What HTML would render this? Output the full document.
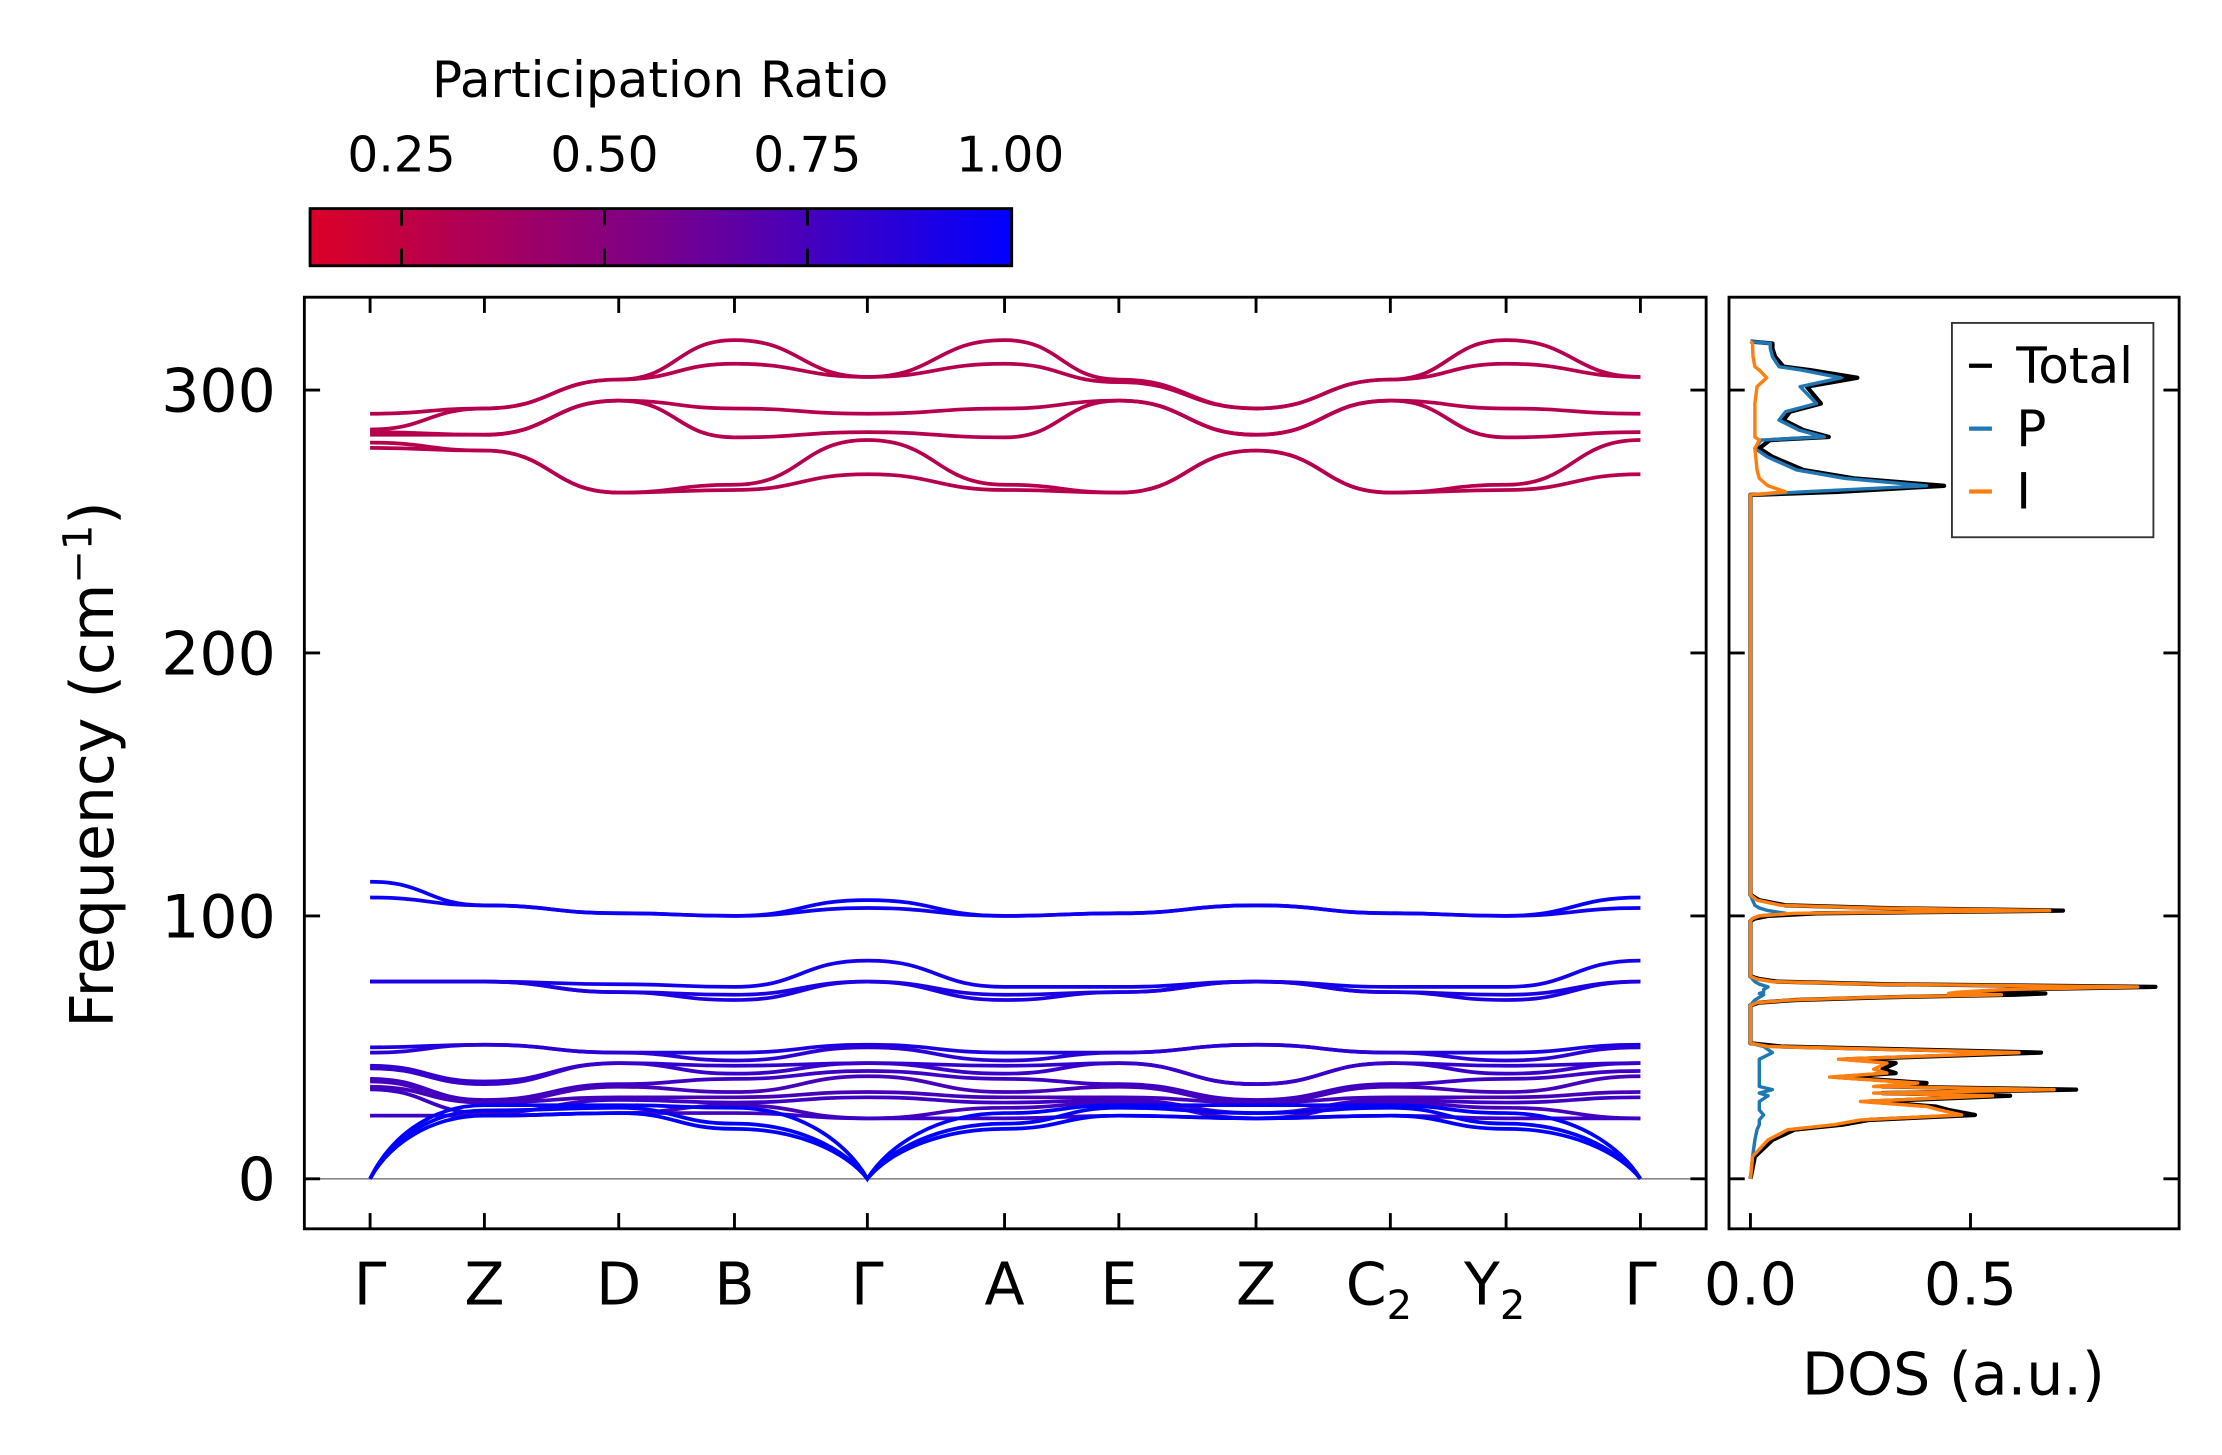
<!DOCTYPE html>
<html><head><meta charset="utf-8">
<style>
html,body{margin:0;padding:0;background:#fff;}
svg{display:block;font-family:"DejaVu Sans","Liberation Sans",sans-serif;}
</style></head>
<body>
<svg id="fig" width="2222" height="1455" viewBox="0 0 1555 1018.3" preserveAspectRatio="none" xmlns="http://www.w3.org/2000/svg">
<defs>
<linearGradient id="cmap" x1="0" x2="1" y1="0" y2="0">
<stop offset="0" stop-color="rgb(220,0,40)"/>
<stop offset="0.5" stop-color="rgb(120,0,140)"/>
<stop offset="1" stop-color="rgb(0,0,255)"/>
</linearGradient>
<clipPath id="mainclip"><rect x="213" y="208" width="981" height="652"/></clipPath>
<clipPath id="dosclip"><rect x="1210" y="208" width="315" height="652"/></clipPath>
</defs>
<g id="colorbar">
<text x="462" y="68" font-size="35" text-anchor="middle">Participation Ratio</text>
<rect x="217" y="146" width="491" height="40" fill="url(#cmap)" stroke="#000" stroke-width="2"/>
</g>
<g id="bands" clip-path="url(#mainclip)"></g>
<g id="dos" clip-path="url(#dosclip)"></g>
<g id="axes"></g>
<g id="legend">
<rect x="1366" y="226" width="141" height="150" fill="#fff" stroke="#333" stroke-width="1.3"/>
<line x1="1378" y1="256" x2="1394" y2="256" stroke="#000" stroke-width="3"/>
<text x="1411" y="268" font-size="35">Total</text>
<line x1="1378" y1="300" x2="1394" y2="300" stroke="#1f77b4" stroke-width="3"/>
<text x="1411" y="312" font-size="35">P</text>
<line x1="1378" y1="344" x2="1394" y2="344" stroke="#ff7f0e" stroke-width="3"/>
<text x="1411" y="356" font-size="35">I</text>
</g>
<text transform="translate(79,535) rotate(-90)" font-size="42" text-anchor="middle">Frequency (cm<tspan dy="-15" font-size="28">−1</tspan><tspan dy="15">)</tspan></text>
<text x="1367" y="976" font-size="41" text-anchor="middle">DOS (a.u.)</text>
</svg>
<script>
// ---- data ----
const kLabels = ["Γ","Z","D","B","Γ","A","E","Z","C","Y","Γ"];
const kSubs = ["","","","","","","","","2","2",""];
const kPath = [0,0.8,1.74,2.55,3.48,4.44,5.24,6.2,7.14,7.95,8.89];
const freqTicks = [0,100,200,300];
const cbTicks = [0.25,0.5,0.75,1.0];
const cbTickLabels = ["0.25","0.50","0.75","1.00"];
const dosTicks = [0.0,0.5];
const dosTickLabels = ["0.0","0.5"];

const bandHigh = [
[291,293,304,319,305,319,304,293,304,319,305],
[285,293,304,310,305,310,303,293,304,310,305],
[284,283,296,293,291,293,296,283,296,293,291],
[283,283,296,282,284,282,296,283,296,282,284],
[280,277,261,264,281,264,261,277,261,264,281],
[278,277,261,262,268,262,261,277,261,262,268]];
const prHigh = [0.3,0.3,0.3,0.3,0.3,0.3];
const bandMid = [
[113,104,101,100,106,100,101,104,101,100,107],
[107,104,101,100,103,100,101,104,101,100,103],
[75,75,74,73,83,73,73,75,73,73,83],
[75,75,71,70,75,70,71,75,71,70,75],
[75,75,71,68,75,68,71,75,71,68,75]];
const prMid = [0.97,0.95,0.93,0.9,0.9];
const bandLow = [
[50,51,48,48,51,48,48,51,48,48,51],
[48,51,48,45,50,45,48,51,48,45,50],
[43,37,44,43,44,43,44,36,44,43,44],
[42,36,44,40,44,40,44,36,44,40,44],
[38,30,36,38,41,38,36,30,36,38,41],
[37,29,35,33,39,33,35,29,35,33,39],
[35,29,31,31,33,31,31,29,31,31,33],
[34,25,30,29,31,29,30,25,30,29,31],
[24,24,25,28,23,27,29,23,29,27,23],
[24,24,25,25,23,23,24,23,24,23,23]];
const prLow = [0.9,0.85,0.82,0.8,0.78,0.75,0.75,0.78,0.75,0.78];
const bandAcoustic = [
[0,24,25,19,0,19,24,23,24,19,0],
[0,26,27,21,0,21,27,25,27,21,0],
[0,28,28,27,0,25,28,28,28,25,0]];
const prAcoustic = [1.0,1.0,1.0];

const dosFreq = [0,8.5,14.8,18.7,20.6,22.4,24.3,26.2,27.5,29.4,31.6,32.6,33.9,35.1,36.4,38.7,40.2,41.7,44,45.5,48,50.3,51.6,
66,67,68,69,70,70.5,71,72,73,74,75,76,77,
98,99,100,101,102,103,104,106,108,
259,260.1,261.3,263.6,266.4,269.6,274.6,277.8,281,282.2,284.8,288.6,291.8,294.9,301.3,304.7,307.6,308.9,312.7,315.8,317.7,318.5];
const dosTotal = [0,0.01,0.05,0.1,0.21,0.27,0.51,0.45,0.42,0.27,0.59,0.3,0.74,0.3,0.4,0.2,0.33,0.3,0.33,0.22,0.66,0.07,0,
0,0.02,0.1,0.3,0.6,0.67,0.5,0.6,0.92,0.3,0.06,0.02,0,
0,0.01,0.04,0.15,0.71,0.3,0.08,0.02,0,
0,0,0.2,0.44,0.235,0.12,0.05,0.02,0.044,0.178,0.12,0.075,0.09,0.16,0.128,0.243,0.136,0.075,0.056,0.05,0.05,0];
const dosP = [0,0.005,0.01,0.015,0.02,0.02,0.03,0.02,0.02,0.02,0.04,0.02,0.05,0.02,0.02,0.02,0.02,0.02,0.02,0.02,0.05,0.03,0,
0,0.005,0.01,0.02,0.03,0.02,0.03,0.03,0.04,0.02,0.01,0.005,0,
0,0.005,0.02,0.08,0.04,0.02,0.01,0.005,0,
0,0,0.12,0.4,0.215,0.105,0.038,0.01,0.024,0.168,0.11,0.065,0.08,0.15,0.113,0.206,0.116,0.065,0.05,0.045,0.045,0];
const dosI = [0,0.005,0.04,0.085,0.19,0.25,0.48,0.43,0.4,0.25,0.55,0.28,0.69,0.28,0.38,0.18,0.31,0.28,0.31,0.2,0.61,0.04,0,
0,0.015,0.09,0.28,0.57,0.45,0.47,0.58,0.88,0.28,0.05,0.015,0,
0,0.005,0.02,0.1,0.68,0.28,0.07,0.015,0,
0,0,0.08,0.04,0.02,0.015,0.012,0.01,0.02,0.01,0.01,0.01,0.01,0.01,0.015,0.037,0.02,0.01,0.006,0.005,0.005,0];

// ---- scales ----
const NS = "http://www.w3.org/2000/svg";
const X0 = 259, X1 = 1148;
const xK = k => X0 + (k - kPath[0]) / (kPath[kPath.length-1] - kPath[0]) * (X1 - X0);
const yF = f => 825 - f * 1.84;
const xD = d => 1225 + d * 308;
const xCB = v => 281 + (v - 0.25) / 0.25 * 142;
function prColor(p){
  const t = Math.max(0, Math.min(1, (p - 0.137) / (1 - 0.137)));
  let r,g,b;
  if (t < 0.5){ const u=t/0.5; r=220+(120-220)*u; g=0; b=40+(140-40)*u; }
  else { const u=(t-0.5)/0.5; r=120*(1-u); g=0; b=140+(255-140)*u; }
  return `rgb(${Math.round(r)},${Math.round(g)},${Math.round(b)})`;
}
function mk(tag, attrs, parent){
  const e = document.createElementNS(NS, tag);
  for (const a in attrs) e.setAttribute(a, attrs[a]);
  parent.appendChild(e);
  return e;
}

// ---- bands ----
const gB = document.getElementById('bands');
const zl = mk('line',{x1:213,x2:1194,y1:yF(0),y2:yF(0),stroke:'#888','stroke-width':1.2},gB);


function drawBand(vals, pr, name){
  let d = `M${xK(kPath[0])},${yF(vals[0])}`;
  for (let i=0;i<vals.length-1;i++){
    const xa=xK(kPath[i]), xb=xK(kPath[i+1]), ya=yF(vals[i]), yb=yF(vals[i+1]);
    const dx=xb-xa;
    let c1x=xa+dx/2, c1y=ya, c2x=xb-dx/2, c2y=yb;
    if (vals[i]===0){ c1x=xa+dx*0.15; c1y=ya+(yb-ya)*0.5; }
    if (vals[i+1]===0){ c2x=xb-dx*0.15; c2y=yb+(ya-yb)*0.5; }
    d += ` C${c1x},${c1y} ${c2x},${c2y} ${xb},${yb}`;
  }
  const p = mk('path',{d:d,fill:'none',stroke:prColor(pr),'stroke-width':2.6},gB);
  
  
}
bandHigh.forEach((b,i)=>drawBand(b,prHigh[i],'band-high-'+i));
bandMid.forEach((b,i)=>drawBand(b,prMid[i],'band-mid-'+i));
bandLow.forEach((b,i)=>drawBand(b,prLow[i],'band-low-'+i));
bandAcoustic.forEach((b,i)=>drawBand(b,prAcoustic[i],'band-acoustic-'+i));

// ---- DOS ----
const gD = document.getElementById('dos');
function drawDos(vals, color, w, name){
  const pts = vals.map((v,i)=>`${xD(v).toFixed(1)},${yF(dosFreq[i]).toFixed(1)}`).join(' ');
  const p = mk('polyline',{points:pts,fill:'none',stroke:color,'stroke-width':w,'stroke-linejoin':'round'},gD);
  
  
}
drawDos(dosTotal,'#000',3,'dos-total');
drawDos(dosP,'#1f77b4',2.4,'dos-p');
drawDos(dosI,'#ff7f0e',2.4,'dos-i');

// ---- axes ----
const gA = document.getElementById('axes');
const fr1 = mk('rect',{x:213,y:208,width:981,height:652,fill:'none',stroke:'#000','stroke-width':2},gA);


const fr2 = mk('rect',{x:1210,y:208,width:315,height:652,fill:'none',stroke:'#000','stroke-width':2},gA);


freqTicks.forEach(f=>{
  const y=yF(f);
  [[213,224],[1194,1183],[1210,1221],[1525,1514]].forEach(([a,b])=>{
    const t=mk('line',{x1:a,x2:b,y1:y,y2:y,stroke:'#000','stroke-width':2},gA);
    
    
  });
  const lb=mk('text',{x:193,y:y+15,'font-size':42,'text-anchor':'end'},gA);
  
  
  lb.textContent=String(f);
});
kPath.forEach((k,i)=>{
  const x=xK(k);
  [[208,219],[860,849]].forEach(([a,b])=>{
    const t=mk('line',{x1:x,x2:x,y1:a,y2:b,stroke:'#000','stroke-width':2},gA);
    
    
  });
  const lb=mk('text',{x:x,y:913,'font-size':41,'text-anchor':'middle'},gA);
  
  
  lb.textContent=kLabels[i];
  if (kSubs[i]){
    lb.setAttribute('x', x-8);
    const s=document.createElementNS(NS,'tspan');
    s.setAttribute('font-size','28'); s.setAttribute('dy','10');
    s.textContent=kSubs[i];
    lb.appendChild(s);
  }
});
dosTicks.forEach((d,i)=>{
  const x=xD(d);
  const t=mk('line',{x1:x,x2:x,y1:860,y2:849,stroke:'#000','stroke-width':2},gA);
  
  
  const lb=mk('text',{x:x,y:913,'font-size':41,'text-anchor':'middle'},gA);
  
  
  lb.textContent=dosTickLabels[i];
});
// colorbar ticks
const gC = document.getElementById('colorbar');
cbTicks.forEach((v,i)=>{
  const x=xCB(v);
  if (v<1){
    const t1=mk('line',{x1:x,x2:x,y1:147,y2:158,stroke:'#000','stroke-width':2},gC);
    
    
    const t2=mk('line',{x1:x,x2:x,y1:174,y2:185,stroke:'#000','stroke-width':2},gC);
    
    
  }
  const lb=mk('text',{x:x,y:120,'font-size':34,'text-anchor':'middle'},gC);
  
  
  lb.textContent=cbTickLabels[i];
});
</script>
</body></html>
